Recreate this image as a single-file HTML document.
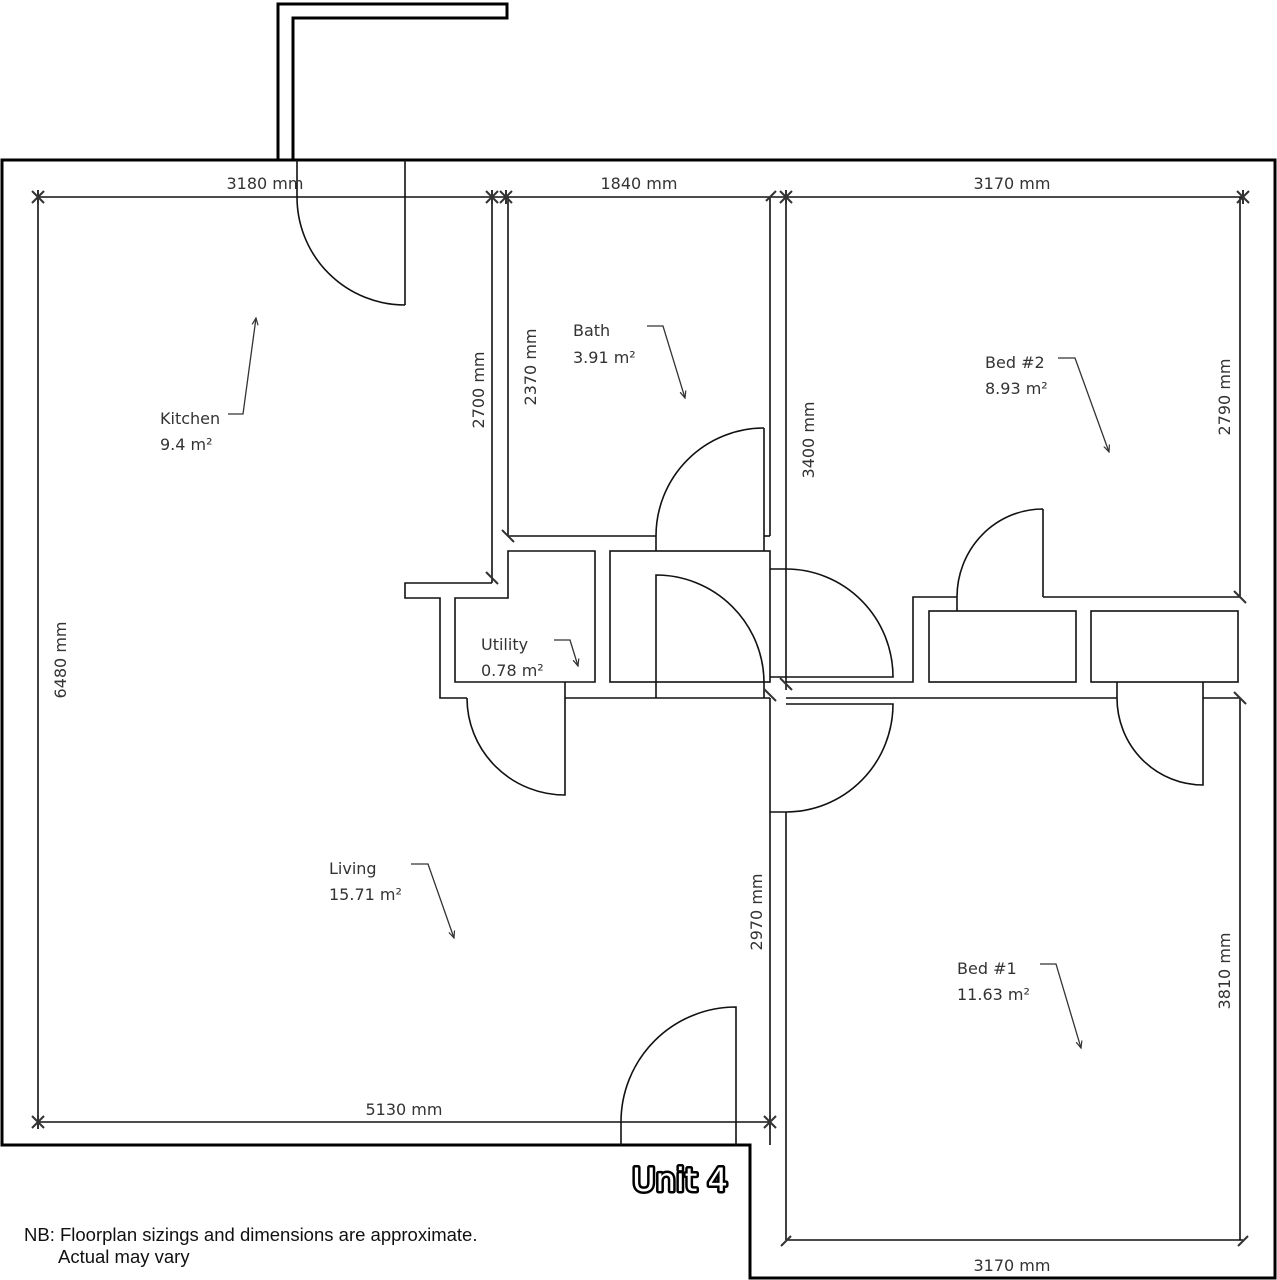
<!DOCTYPE html>
<html><head><meta charset="utf-8"><style>
html,body{margin:0;padding:0;background:#fff}
svg{display:block}
.t{font-family:"DejaVu Sans","Liberation Sans",sans-serif;font-size:16px;fill:#333}
.n{font-family:"Liberation Sans",sans-serif;font-size:18.5px;fill:#111}
</style></head><body>
<svg width="1277" height="1280" viewBox="0 0 1277 1280" xmlns="http://www.w3.org/2000/svg">
<defs>
<marker id="ar" markerWidth="8" markerHeight="8" refX="7" refY="4" orient="auto" markerUnits="userSpaceOnUse"><path d="M0,1 L7,4 L0,7" fill="none" stroke="#333" stroke-width="1.2"/></marker>
<g id="ast" stroke="#333" stroke-width="2"><line x1="-6" y1="-6" x2="6" y2="6"/><line x1="-6" y1="6" x2="6" y2="-6"/><line x1="0" y1="-7" x2="0" y2="7"/></g>
<g id="sl" stroke="#333" stroke-width="2"><line x1="-6" y1="-6" x2="6" y2="6"/></g>
</defs>
<g fill="none" stroke="#000">
<path d="M278,160 L278,4 L507,4 L507,18 L293,18 L293,160" stroke-width="3"/>
<path d="M2,160 L1275,160 L1275,1278 L750,1278 L750,1145 L2,1145 Z" stroke-width="3"/>
</g>
<g fill="none" stroke="#111" stroke-width="1.6">
<line x1="38" y1="197" x2="1243" y2="197"/>
<line x1="38" y1="197" x2="38" y2="1122"/>
<line x1="38" y1="1122" x2="770" y2="1122"/>
<line x1="492" y1="197" x2="492" y2="583"/>
<line x1="508" y1="197" x2="508" y2="536"/>
<line x1="508" y1="536" x2="656" y2="536"/>
<line x1="770" y1="197" x2="770" y2="536"/>
<line x1="764" y1="536" x2="770" y2="536"/>
<line x1="786" y1="197" x2="786" y2="690"/>
<line x1="1240" y1="197" x2="1240" y2="597"/>
<line x1="1240" y1="698" x2="1240" y2="1240"/>
<line x1="786" y1="1240" x2="1243" y2="1240"/>
<line x1="786" y1="812" x2="786" y2="1240"/>
<line x1="770" y1="698" x2="770" y2="1145"/>
<line x1="405" y1="160" x2="405" y2="305"/>
<path d="M297,160 L297,197 A108,108 0 0 0 405,305"/>
<line x1="764" y1="428" x2="764" y2="551"/>
<path d="M764,428 A108,108 0 0 0 656,536 L656,551"/>
<path d="M492,583 L405,583 L405,598 L440,598 L440,698 L467,698"/>
<path d="M455,682 L455,598 L508,598 L508,551 L595,551 L595,682 Z"/>
<path d="M565,682 L565,795 A98,97 0 0 1 467,698"/>
<line x1="565" y1="698" x2="770" y2="698"/>
<rect x="610" y="551" width="160" height="131"/>
<path d="M656,698 L656,575 A108,108 0 0 1 764,683 L764,698"/>
<path d="M770,569 L786,569 A107,108 0 0 1 893,677 L770,677"/>
<path d="M786,682 L913,682 L913,597 L957,597"/>
<path d="M1043,509 L1043,597 M1043,509 A86,88 0 0 0 957,597 L957,611"/>
<line x1="1043" y1="597" x2="1240" y2="597"/>
<rect x="929" y="611" width="147" height="71"/>
<rect x="1091" y="611" width="147" height="71"/>
<line x1="786" y1="698" x2="1117" y2="698"/>
<path d="M1117,682 L1117,698 A86,87 0 0 0 1203,785 L1203,682"/>
<line x1="1203" y1="698" x2="1240" y2="698"/>
<path d="M786,704 L893,704 A107,108 0 0 1 786,812 L770,812"/>
<path d="M736,1145 L736,1007 A115,115 0 0 0 621,1122 L621,1145"/>
</g>
<use href="#ast" x="38" y="197"/><use href="#ast" x="492" y="197"/><use href="#ast" x="506" y="197"/>
<use href="#ast" x="786" y="197"/><use href="#ast" x="1243" y="197"/><use href="#ast" x="38" y="1122"/>
<use href="#ast" x="770" y="1122"/>
<g stroke="#333" stroke-width="2">
<line x1="766" y1="201" x2="776" y2="191"/>
<line x1="1238" y1="1246" x2="1248" y2="1236"/>
<line x1="781" y1="1246" x2="791" y2="1236"/>
</g>
<use href="#sl" x="508" y="536"/><use href="#sl" x="492" y="578"/><use href="#sl" x="1240" y="597"/>
<use href="#sl" x="1240" y="698"/><use href="#sl" x="786" y="684"/><use href="#sl" x="770" y="695"/>
<g fill="none" stroke="#333" stroke-width="1.3" marker-end="url(#ar)">
<polyline points="228,414 243,414 256,318"/>
<polyline points="647,326 663,326 685,398"/>
<polyline points="1058,358 1075,358 1109,452"/>
<polyline points="554,640 570,640 578,666"/>
<polyline points="411,864 428,864 454,938"/>
<polyline points="1040,964 1056,964 1081,1048"/>
</g>
<g class="t">
<text x="160" y="424">Kitchen</text><text x="160" y="450">9.4 m²</text>
<text x="573" y="336">Bath</text><text x="573" y="363">3.91 m²</text>
<text x="985" y="368">Bed #2</text><text x="985" y="394">8.93 m²</text>
<text x="481" y="650">Utility</text><text x="481" y="676">0.78 m²</text>
<text x="329" y="874">Living</text><text x="329" y="900">15.71 m²</text>
<text x="957" y="974">Bed #1</text><text x="957" y="1000">11.63 m²</text>
</g>
<g class="t" text-anchor="middle">
<text x="265" y="189">3180 mm</text>
<text x="639" y="189">1840 mm</text>
<text x="1012" y="189">3170 mm</text>
<text x="404" y="1115">5130 mm</text>
<text x="1012" y="1271">3170 mm</text>
<text transform="translate(66,660) rotate(-90)">6480 mm</text>
<text transform="translate(484,390) rotate(-90)">2700 mm</text>
<text transform="translate(536,367) rotate(-90)">2370 mm</text>
<text transform="translate(814,440) rotate(-90)">3400 mm</text>
<text transform="translate(1230,397) rotate(-90)">2790 mm</text>
<text transform="translate(762,912) rotate(-90)">2970 mm</text>
<text transform="translate(1230,971) rotate(-90)">3810 mm</text>
</g>
<text x="680" y="1191" text-anchor="middle" font-family="DejaVu Sans, Liberation Sans, sans-serif" font-size="32" fill="#fff" stroke="#000" stroke-width="5" paint-order="stroke" stroke-linejoin="round">Unit 4</text>
<text class="n" x="24" y="1241">NB: Floorplan sizings and dimensions are approximate.</text>
<text class="n" x="58" y="1263">Actual may vary</text>
</svg>
</body></html>
